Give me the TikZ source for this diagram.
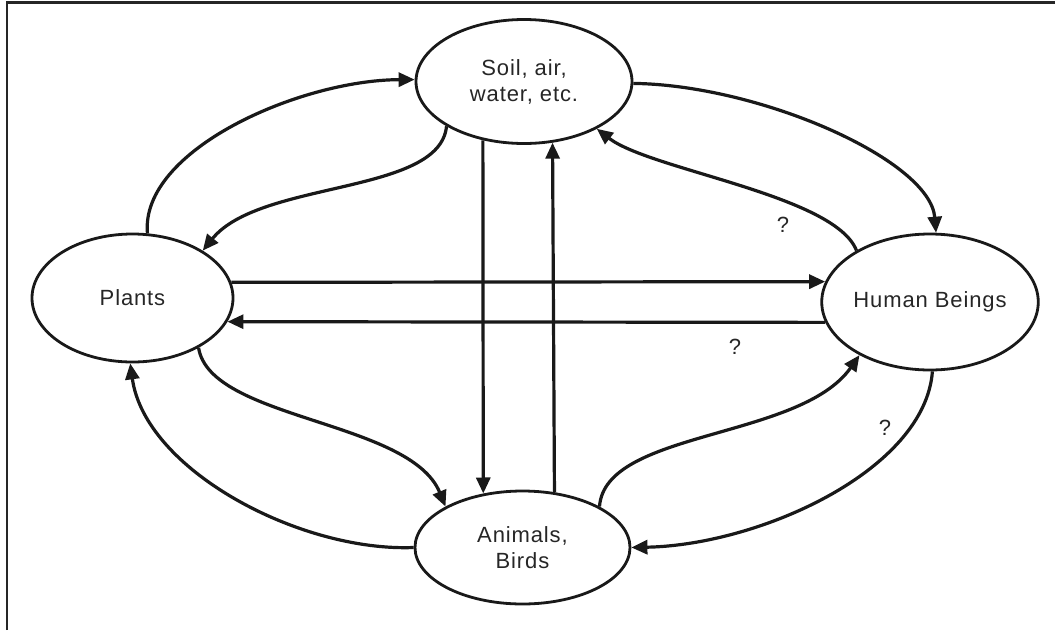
\documentclass[tikz,border=0pt]{standalone}
\usepackage{fontspec}
\setmainfont{Liberation Sans}[LetterSpace=4]
\usetikzlibrary{arrows.meta,shapes.geometric}
\begin{document}
\begin{tikzpicture}[x=1pt,y=-1pt,
  blob/.style={ellipse,draw=black!90,line width=2.8pt,inner sep=0pt,align=center,
    font=\fontsize{22}{26}\selectfont,text=black!85},
  conn/.style={line width=3.2pt,draw=black!90,-{Triangle[length=16pt,width=14pt]}},
  qmark/.style={font=\fontsize{22}{26}\selectfont,text=black!85,inner sep=0pt},
  frame/.style={line width=2.5pt,draw=black!85}]
\useasboundingbox (0,0) rectangle (1055,630);
\draw[frame] (7,630) -- (7,2.5) -- (1055,2.5);

\node[blob,minimum width=216pt,minimum height=124pt] (soil) at (524,81.5) {Soil, air,\\water, etc.};
\node[blob,minimum width=201pt,minimum height=128pt] (plants) at (132.5,298) {Plants};
\node[blob,minimum width=216pt,minimum height=136pt] (human) at (930,302) {Human Beings};
\node[blob,minimum width=215pt,minimum height=113pt] (animals) at (522.5,547.5) {Animals,\\Birds};

% top left: plants -> soil
\draw[conn] (plants.77) .. controls (140,150) and (300,80) .. (soil.179);
% soil -> plants
\draw[conn] (soil.210.6) .. controls (440,195) and (260,180) .. (plants.34.5);
% soil -> human
\draw[conn] (soil.-1) .. controls (760,85) and (930,160) .. (human.85);
% human -> soil
\draw[conn] (human.145) .. controls (835,195) and (650,170) .. (soil.327.6);
% horizontal
\draw[conn] (plants.9.96) -- (human.169.03);
\draw[conn] (human.191.56) -- (plants.-14.49);
% vertical
\draw[conn] (soil.235.22) -- (animals.126.12);
\draw[conn] (animals.60.63) -- (soil.295.9);
% plants -> animals
\draw[conn] (plants.-37) .. controls (210,420) and (410,420) .. (animals.152);
% animals -> plants
\draw[conn] (animals.180) .. controls (300,552) and (145,470) .. (plants.268);
% animals -> human
\draw[conn] (animals.28) .. controls (605,430) and (800,440) .. (human.217);
% human -> animals
\draw[conn] (human.272) .. controls (925,470) and (760,545) .. (animals.0);

\node[qmark] (q1) at (783,225) {?};
\node[qmark] (q2) at (735,347) {?};
\node[qmark] (q3) at (885,428) {?};
\end{tikzpicture}
\end{document}
